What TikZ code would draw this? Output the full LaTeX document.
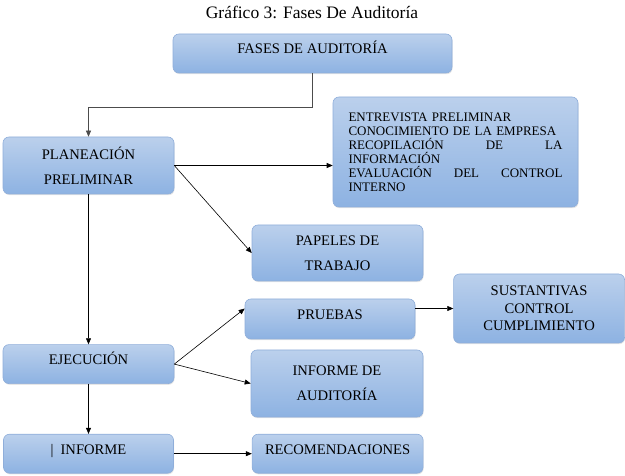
\documentclass[tikz,border=0pt]{standalone}
\usepackage{fontspec}
\setmainfont{Liberation Serif}
\usetikzlibrary{
	positioning,
	arrows.meta,
	shadows
}
\definecolor{FaseTop}{RGB}{187,208,236}
\definecolor{FaseBottom}{RGB}{141,178,226}
\definecolor{FaseLine}{RGB}{143,174,218}
\tikzset{
	fase/.style={
		draw=FaseLine,
		top color=FaseTop,
		bottom color=FaseBottom,
		rounded corners=6pt,
		line width=0.6pt,
		inner sep=2pt,
		align=center,
		font=\fontsize{14.6pt}{25pt}\selectfont,
		drop shadow={opacity=0.2, shadow xshift=0.6pt, shadow yshift=-1.2pt}
	},
	onerow/.style={
		text height=10pt,
		text depth=9pt
	},
	flecha/.style={
		-{Triangle[length=6pt,width=5pt]},
		line width=0.6pt,
		black
	}
}
\hyphenpenalty=10000
\begin{document}
\begin{tikzpicture}[x=1pt, y=-1pt]
	\useasboundingbox (0,0) rectangle (625,476);
	
	\node[font=\fontsize{17.5pt}{20pt}\selectfont] (titulo) at (312,12) {Gráfico 3: Fases De Auditoría};
	
	\node[
	fase,
	onerow,
	minimum width=279pt,
	minimum height=39pt
	] (fases) at (312.5,53.5) {FASES DE AUDITORÍA};
	
	\node[
	fase,
	minimum width=171pt,
	minimum height=57pt
	] (plan) at (88.5,165.5) {PLANEACIÓN\\PRELIMINAR};
	
	\node[
	fase,
	minimum width=245pt,
	minimum height=110pt,
	text width=214pt,
	align=left,
	font=\fontsize{13pt}{14pt}\selectfont
	] (entr) at (455.5,152) {ENTREVISTA PRELIMINAR\\
		CONOCIMIENTO DE LA EMPRESA\\
		RECOPILACIÓN\hfill DE\hfill LA\\
		INFORMACIÓN\\
		EVALUACIÓN\hfill DEL\hfill CONTROL\\
		INTERNO};
	
	\node[
	fase,
	minimum width=171pt,
	minimum height=56pt
	] (pap) at (337.5,253) {PAPELES DE\\TRABAJO};
	
	\node[
	fase,
	onerow,
	minimum width=171pt,
	minimum height=39pt,
	below=150pt of plan
	] (ejec) {EJECUCIÓN};
	
	\node[
	fase,
	onerow,
	minimum width=170pt,
	minimum height=39pt,
	below=50pt of ejec
	] (inf) {|\hspace{7pt}INFORME};
	
	\node[
	fase,
	onerow,
	minimum width=171pt,
	minimum height=39pt,
	right=78pt of inf
	] (recom) {RECOMENDACIONES};
	
	\node[
	fase,
	onerow,
	minimum width=170pt,
	minimum height=40pt
	] (prue) at (330,319) {PRUEBAS};
	
	\node[
	fase,
	minimum width=172pt,
	minimum height=67pt
	] (infde) at (337,383.5) {INFORME DE\\AUDITORÍA};
	
	\node[
	fase,
	minimum width=171pt,
	minimum height=69pt,
	font=\fontsize{14.6pt}{17.5pt}\selectfont,
	right=38pt of prue,
	yshift=10.5pt
	] (sust) {SUSTANTIVAS\\CONTROL\\CUMPLIMIENTO};
	
	\draw[flecha, black!70] (fases.south) -- ++(0,34) -| (plan.north);
	\draw[flecha] (plan.east) -- (plan.east -| entr.west);
	\draw[flecha] (plan.east) -- (pap.west);
	\draw[flecha] (plan.south) -- (ejec.north);
	\draw[flecha] (ejec.east) -- (prue.173);
	\draw[flecha] (ejec.east) -- (infde.west);
	\draw[flecha] (prue.east |- sust.west) -- (sust.west);
	\draw[flecha] (ejec.south) -- (inf.north);
	\draw[flecha] (inf.east) -- (recom.west);
	
\end{tikzpicture}
\end{document}
